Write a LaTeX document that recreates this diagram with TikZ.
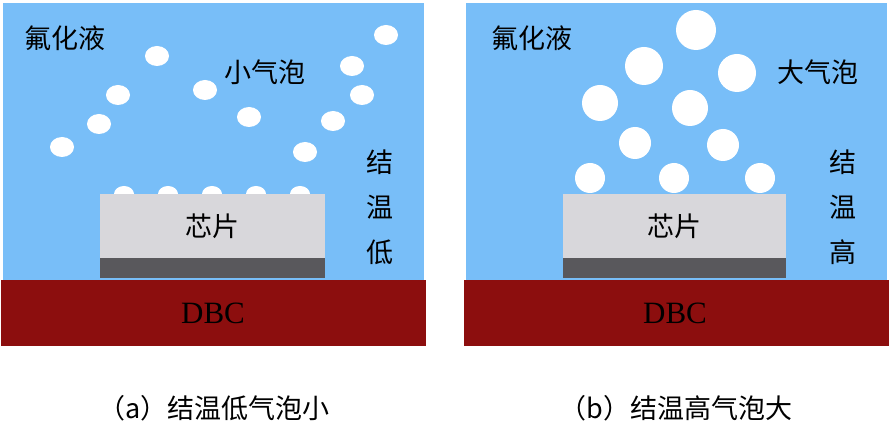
\documentclass[tikz,border=0pt]{standalone}
\usepackage{fontspec}
\setmainfont{Liberation Serif}
\newfontfamily\cjk{Noto Sans CJK SC}
\definecolor{liq}{HTML}{78BEF8}
\definecolor{chipc}{HTML}{D8D7DB}
\definecolor{sold}{HTML}{59585C}
\definecolor{dbc}{HTML}{8C0E0E}
\tikzset{lbl/.style={font=\cjk\fontsize{27}{32}\selectfont},
 captxt/.style={font=\cjk\fontsize{27}{32}\selectfont},
 dbctxt/.style={font=\fontsize{31}{34}\selectfont},
 bub/.style={fill=white,draw=none}}
\begin{document}
\begin{tikzpicture}[x=1pt,y=-1pt]
\useasboundingbox (0,0) rectangle (890,427);
\fill[white] (0,0) rectangle (890,427);
\foreach \ox in {0,463}{
 \fill[liq] (\ox+3,3) rectangle (\ox+424,280);
 \fill[dbc] (\ox+1,280) rectangle (\ox+426,346);
}
% panel a
\foreach \x in {124,168,212,256,300}{\fill[bub] (\x,194) ellipse (10 and 8);}
\node[fill=chipc,minimum width=225pt,minimum height=64pt,inner sep=0,anchor=north west,lbl] (chipa) at (100,194) {芯片};
\node[fill=sold,minimum width=225pt,minimum height=20pt,inner sep=0,anchor=north west] (sola) at (100,258) {};
\node[dbctxt] (dbca) at (213,313) {DBC};
\foreach \x/\y in {157/56,386/35,352/66,118/95,205/90,362/95,99/124,249/117,333/121,62/147,305/152}{\fill[bub] (\x,\y) ellipse (12 and 10);}
\node[lbl] (fa) at (65,38) {氟化液};
\node[lbl] (xa) at (265,72) {小气泡};
\node[lbl,align=center,text width=30pt] (ja) at (380,207) {结\\[13pt]温\\[13pt]低};
\node[captxt] (capa) at (214,408) {（a）结温低气泡小};
% panel b
\node[fill=chipc,minimum width=223pt,minimum height=64pt,inner sep=0,anchor=north west,lbl] (chipb) at (563,194) {芯片};
\node[fill=sold,minimum width=223pt,minimum height=20pt,inner sep=0,anchor=north west] (solb) at (563,258) {};
\node[dbctxt] (dbcb) at (675,313) {DBC};
\foreach \x/\y/\r in {696/30/20,644/66/19,737/73/19,600/103/18,690/108/18,635/143/16,723/145/16,590/178/15,674/178/15,760/178/15}{\fill[bub] (\x,\y) circle (\r);}
\node[lbl] (fb) at (532,38) {氟化液};
\node[lbl] (db) at (818,72) {大气泡};
\node[lbl,align=center,text width=30pt] (jb) at (843,207) {结\\[13pt]温\\[13pt]高};
\node[captxt] (capb) at (676,408) {（b）结温高气泡大};
\end{tikzpicture}
\end{document}
